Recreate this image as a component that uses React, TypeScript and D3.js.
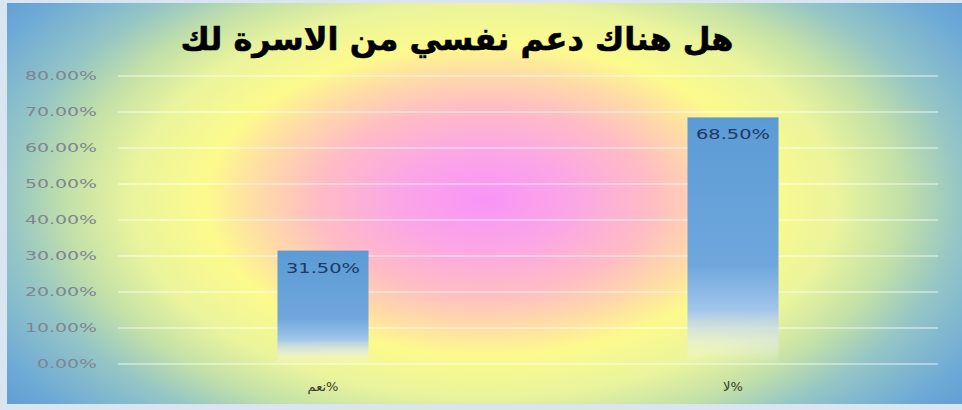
import React from "react";
import * as d3 from "d3";

const TITLE = "هل هناك دعم نفسي من الاسرة لك";
const categories = ["نعم%", "لا%"];
const values = [0.315, 0.685];
const valueLabels = ["31.50%", "68.50%"];
const yTicks = [0, 0.1, 0.2, 0.3, 0.4, 0.5, 0.6, 0.7, 0.8];

const W = 962;
const H = 410;
const frame = { x: 7, y: 3, w: 955, h: 401 };
const plot = { left: 118, right: 938, top: 76, bottom: 364 };

export default function App() {
  const x = d3
    .scaleBand<string>()
    .domain(categories)
    .range([plot.left, plot.right])
    .paddingInner(0.778)
    .paddingOuter(0.389);
  const y = d3.scaleLinear().domain([0, 0.8]).range([plot.bottom, plot.top]);
  const fmt = d3.format(".2%");
  const cx = 485;
  const cy = 200;
  const sy = 1 / 1.8;

  return (
    <svg
      width={W}
      height={H}
      style={{ position: "absolute", left: 0, top: 0, display: "block" }}
    >
      <defs>
        <radialGradient
          id="bg"
          gradientUnits="userSpaceOnUse"
          cx={cx}
          cy={cy}
          r={620}
          fx={cx}
          fy={cy}
          gradientTransform={`translate(${cx},${cy}) scale(1,${sy}) translate(${-cx},${-cy})`}
        >
          <stop offset="0" stopColor="#f994f7" />
          <stop offset="0.14" stopColor="#fba6e6" />
          <stop offset="0.27" stopColor="#ffbcc4" />
          <stop offset="0.37" stopColor="#ffdca6" />
          <stop offset="0.45" stopColor="#fcfa8c" />
          <stop offset="0.57" stopColor="#eaf49c" />
          <stop offset="0.67" stopColor="#c4e1a8" />
          <stop offset="0.77" stopColor="#94c5c6" />
          <stop offset="0.9" stopColor="#6eaad6" />
          <stop offset="1" stopColor="#5b9bd5" />
        </radialGradient>
        <linearGradient id="bar" x1="0" y1="0" x2="0" y2="1">
          <stop offset="0" stopColor="#5b9bd5" stopOpacity="1" />
          <stop offset="0.6" stopColor="#6fa7dc" stopOpacity="1" />
          <stop offset="0.78" stopColor="#a0c5ea" stopOpacity="1" />
          <stop offset="0.9" stopColor="#dde8ee" stopOpacity="0.6" />
          <stop offset="1" stopColor="#ffffff" stopOpacity="0" />
        </linearGradient>
      </defs>
      <rect x={0} y={0} width={W} height={H} fill="#d9e6f1" />
      <rect
        x={frame.x}
        y={frame.y}
        width={frame.w}
        height={frame.h}
        fill="url(#bg)"
      />
      {yTicks.map((t) => (
        <g key={t}>
          <line
            x1={plot.left}
            x2={plot.right}
            y1={y(t)}
            y2={y(t)}
            stroke="#ffffff"
            strokeOpacity={0.55}
            strokeWidth={1.5}
          />
          <text
            x={97}
            y={y(t)}
            dy="0.35em"
            textAnchor="end"
            fontFamily="DejaVu Sans, sans-serif"
            fontSize={12}
            fill="#7e8490"
            textLength={fmt(t).length * 12}
            lengthAdjust="spacingAndGlyphs"
          >
            {fmt(t)}
          </text>
        </g>
      ))}
      {categories.map((c, i) => (
        <g key={c}>
          <rect
            x={x(c)}
            y={y(values[i])}
            width={x.bandwidth()}
            height={y(0) - y(values[i])}
            fill="url(#bar)"
          />
          <text
            x={(x(c) as number) + x.bandwidth() / 2}
            y={y(values[i]) + 22}
            textAnchor="middle"
            fontFamily="DejaVu Sans, sans-serif"
            fontSize={14}
            fill="#1f3864"
            textLength={74}
            lengthAdjust="spacingAndGlyphs"
          >
            {valueLabels[i]}
          </text>
          <text
            x={(x(c) as number) + x.bandwidth() / 2}
            y={391}
            textAnchor="middle"
            fontFamily="DejaVu Sans, sans-serif"
            fontSize={13}
            fill="#3a3a28"
          >
            {c}
          </text>
        </g>
      ))}
      <text
        x={457}
        y={50}
        textAnchor="middle"
        fontFamily="DejaVu Sans, sans-serif"
        fontWeight="bold"
        fontSize={32}
        fill="#000000"
        stroke="#000000"
        strokeWidth={0.6}
      >
        {TITLE}
      </text>
    </svg>
  );
}
